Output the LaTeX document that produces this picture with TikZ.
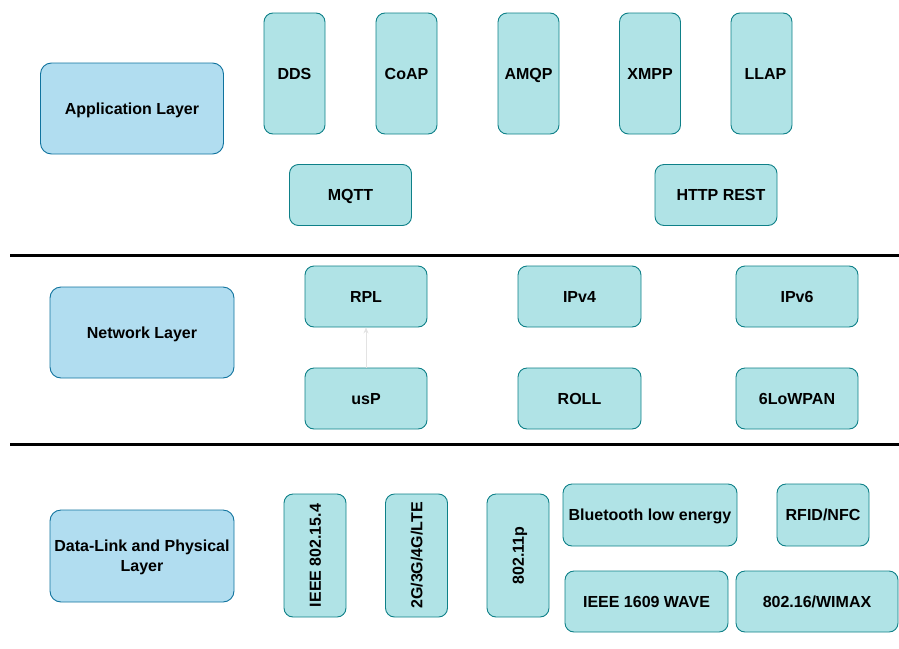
\documentclass[tikz,border=0pt]{standalone}
\usepackage{fontspec}
\setmainfont{Liberation Sans}
\usetikzlibrary{arrows.meta}
\definecolor{layerfill}{HTML}{B1DDF0}
\definecolor{layerdraw}{HTML}{10739E}
\definecolor{protofill}{HTML}{B0E3E6}
\definecolor{protodraw}{HTML}{0E8088}

\begin{document}
\begin{tikzpicture}[x=1pt, y=-1pt,
    layerbox/.style={rectangle, draw=layerdraw, fill=layerfill, rounded corners=11pt, line width=0.9pt, minimum width=183pt, minimum height=91pt, align=center, inner sep=0pt, text height=11.5pt, text depth=0pt, font=\bfseries\fontsize{16}{20}\selectfont},
    protobox/.style={rectangle, draw=protodraw, fill=protofill, rounded corners=9pt, line width=0.9pt, minimum width=122pt, minimum height=61pt, inner sep=0pt, text height=11.5pt, text depth=0pt, font=\bfseries\fontsize{16}{20}\selectfont},
    tallbox/.style={protobox, minimum width=61pt, minimum height=121pt},
    sidebox/.style={protobox, rotate=90, minimum width=123pt, minimum height=62pt},
    layerline/.style={line width=3pt, black}
]
\useasboundingbox (0,0) rectangle (899,648);

% Application layer
\node[layerbox] (app) at (132,108.5) {Application Layer};
\node[tallbox] (dds) at (294.5,73.5) {DDS};
\node[tallbox] (coap) at (406.5,73.5) {CoAP};
\node[tallbox] (amqp) at (528.5,73.5) {AMQP};
\node[tallbox] (xmpp) at (650,73.5) {XMPP};
\node[tallbox] (llap) at (761.5,73.5) {\hspace{8pt}LLAP};
\node[protobox] (mqtt) at (350.5,195) {MQTT};
\node[protobox] (http) at (716,195) {\hspace{10pt}HTTP REST};

\draw[layerline] (10,255) -- (899,255);

% Network layer
\node[layerbox, minimum width=184pt] (net) at (142,332.5) {Network Layer};
\node[protobox] (rpl) at (366,296.5) {RPL};
\node[protobox] (usp) at (366,398.5) {usP};
\node[protobox, minimum width=123pt] (ipv4) at (579.5,296.5) {IPv4};
\node[protobox] (ipv6) at (797,296.5) {IPv6};
\node[protobox, minimum width=123pt] (roll) at (579.5,398.5) {ROLL};
\node[protobox] (lowpan) at (797,398.5) {6LoWPAN};

\draw[-{Stealth[length=6pt, width=5pt]}, gray!22, line width=0.7pt] (usp) -- (rpl);

\draw[layerline] (10,444) -- (899,444);

% Data-link and physical layer
\node[layerbox, minimum width=184pt, minimum height=92pt, text height=31.5pt] (phy) at (142,556) {Data-Link and Physical\\Layer};
\node[sidebox] (ieee) at (315,555.5) {IEEE 802.15.4};
\node[sidebox] (cell) at (416.5,555.5) {2G/3G/4G/LTE};
\node[sidebox] (wave11) at (518,555.5) {802.11p};
\node[protobox, minimum width=174pt, minimum height=62pt] (ble) at (650,515) {Bluetooth low energy};
\node[protobox, minimum width=92pt, minimum height=62pt] (rfid) at (823,515) {RFID/NFC};
\node[protobox, minimum width=163pt] (wave) at (646.5,601.5) {IEEE 1609 WAVE};
\node[protobox, minimum width=162pt] (wimax) at (817,601.5) {802.16/WIMAX};

\end{tikzpicture}
\end{document}
